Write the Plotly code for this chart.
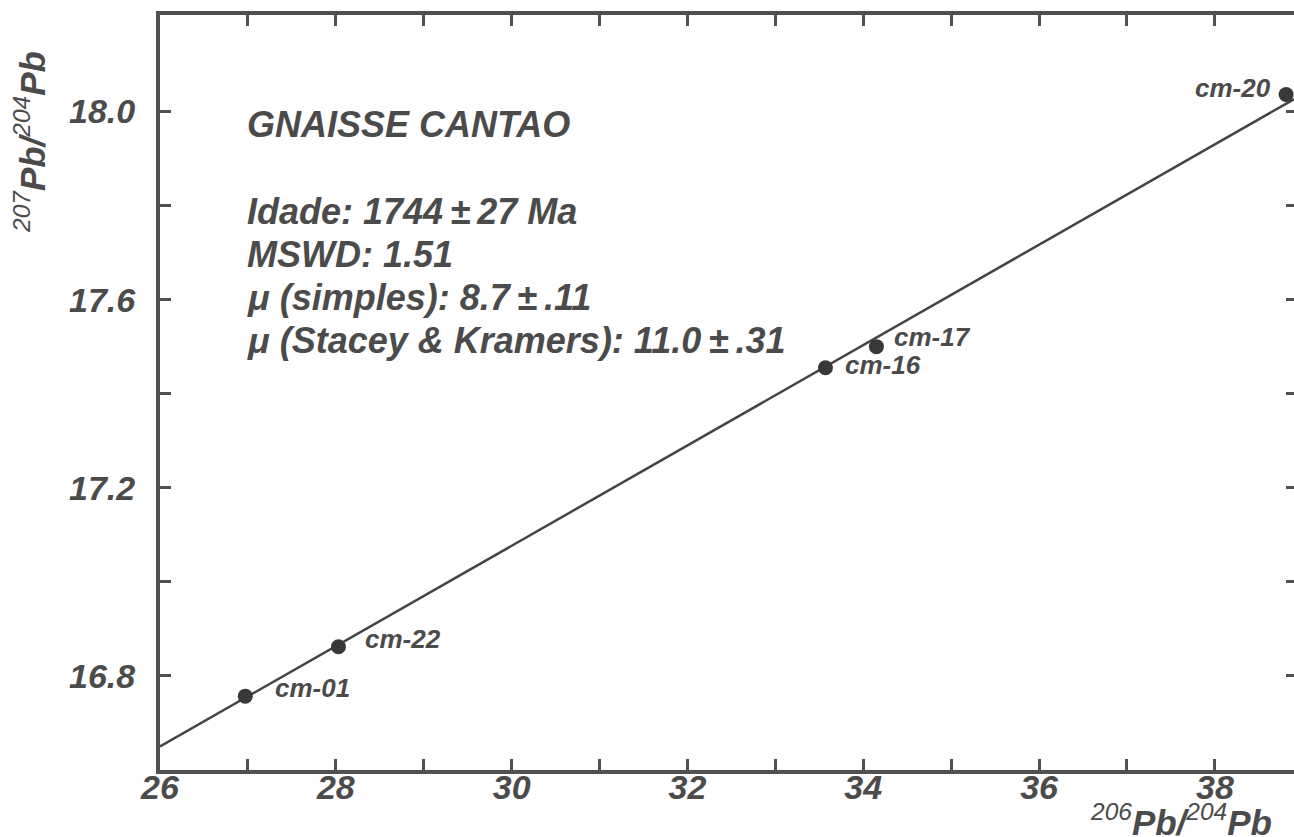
import plotly.graph_objects as go

# ---------------- data ----------------
sample_names = ["cm-01", "cm-22", "cm-16", "cm-17", "cm-20"]
pb206_204 = [26.97, 28.03, 33.57, 34.15, 38.81]
pb207_204 = [16.757, 16.862, 17.455, 17.500, 18.036]

# isochron (regression line) end points
iso_x = [26.0, 38.9]
iso_y = [16.650, 18.026]

x_tick_vals = [26, 27, 28, 29, 30, 31, 32, 33, 34, 35, 36, 37, 38]
x_tick_text = ["26", "", "28", "", "30", "", "32", "", "34", "", "36", "", "38"]
y_tick_vals = [16.8, 17.0, 17.2, 17.4, 17.6, 17.8, 18.0]
y_tick_text = ["16.8", "", "17.2", "", "17.6", "", "18.0"]

info_lines = [
    "GNAISSE CANTAO",
    "Idade: 1744\u2009±\u200927 Ma",
    "MSWD: 1.51",
    "μ (simples): 8.7\u2009±\u2009.11",
    "μ (Stacey & Kramers): 11.0\u2009±\u2009.31",
]

# ---------------- style / layout ----------------
W, H = 1294, 837
ML, MR, MT, MB = 160, 0, 15, 67
INK = "#4b4b4b"
FONT = "Liberation Sans, Arial, Helvetica, sans-serif"

def px_x(px):
    return (px - ML) / (W - ML - MR)

def px_y(py):
    return (H - MB - py) / (H - MT - MB)

fig = go.Figure()

fig.add_trace(go.Scatter(
    x=iso_x, y=iso_y, mode="lines",
    line=dict(color="#444444", width=2.5),
    hoverinfo="skip", showlegend=False,
))
fig.add_trace(go.Scatter(
    x=pb206_204, y=pb207_204, mode="markers",
    marker=dict(size=15, color="#383838"),
    showlegend=False,
))
# invisible trace carrying the right-side tick axis
fig.add_trace(go.Scatter(
    x=iso_x, y=iso_y, mode="lines", yaxis="y2",
    line=dict(width=0), opacity=0, hoverinfo="skip", showlegend=False,
))

label_offsets = {
    "cm-01": ("left", 28, 8),
    "cm-22": ("left", 25, 8),
    "cm-16": ("left", 18, 3),
    "cm-17": ("left", 16, 10),
    "cm-20": ("right", -13, 7),
}
annotations = []
for name, xv, yv in zip(sample_names, pb206_204, pb207_204):
    anchor, dx, dy = label_offsets[name]
    annotations.append(dict(
        x=xv, y=yv, xref="x", yref="y", text=name, showarrow=False,
        xanchor=anchor, yanchor="middle", xshift=dx, yshift=dy,
        font=dict(family=FONT, size=26, color=INK, style="italic", weight="bold"),
    ))

info_y_px = [125, 211, 254, 297, 340]
for txt, py in zip(info_lines, info_y_px):
    annotations.append(dict(
        x=px_x(245), y=px_y(py), xref="paper", yref="paper", text=txt,
        showarrow=False, xanchor="left", yanchor="middle",
        font=dict(family=FONT, size=36, color=INK, style="italic", weight="bold"),
    ))

sup = '<sup><span style="font-weight:normal">{}</span></sup>'
x_title = sup.format("206") + "Pb/" + sup.format("204") + "Pb"
y_title = sup.format("207") + "Pb/" + sup.format("204") + "Pb"
annotations.append(dict(
    x=px_x(1274), y=px_y(820), xref="paper", yref="paper", text=x_title,
    showarrow=False, xanchor="right", yanchor="middle",
    font=dict(family=FONT, size=35, color=INK, style="italic", weight="bold"),
))
annotations.append(dict(
    x=px_x(30), y=px_y(142), xref="paper", yref="paper", text=y_title,
    showarrow=False, xanchor="center", yanchor="middle", textangle=-90,
    font=dict(family=FONT, size=35, color=INK, style="italic", weight="bold"),
))

tick_font = dict(family=FONT, size=34, color=INK, style="italic", weight="bold")

fig.update_layout(
    width=W, height=H,
    margin=dict(l=ML, r=MR, t=MT, b=MB, pad=0),
    paper_bgcolor="white", plot_bgcolor="white",
    showlegend=False,
    annotations=annotations,
    xaxis=dict(
        range=[26, 38.9], tickvals=x_tick_vals, ticktext=x_tick_text,
        ticks="inside", ticklen=11, tickwidth=3, tickcolor="#505050",
        showline=True, linewidth=4, linecolor="#505050", mirror="ticks",
        showgrid=False, zeroline=False, tickfont=tick_font,
        ticklabelstandoff=-16,
    ),
    yaxis=dict(
        range=[16.6, 18.205], tickvals=y_tick_vals, ticktext=y_tick_text,
        ticks="inside", ticklen=11, tickwidth=3, tickcolor="#505050",
        showline=True, linewidth=4, linecolor="#505050", mirror=False,
        showgrid=False, zeroline=False, tickfont=tick_font,
        ticklabelstandoff=14,
    ),
    yaxis2=dict(
        range=[16.6, 18.205], tickvals=y_tick_vals, overlaying="y", side="right",
        anchor="x", ticks="inside", ticklen=8, tickwidth=3, tickcolor="#505050",
        showline=False, showgrid=False, zeroline=False, showticklabels=False,
    ),
)

fig.write_html("out.html")
